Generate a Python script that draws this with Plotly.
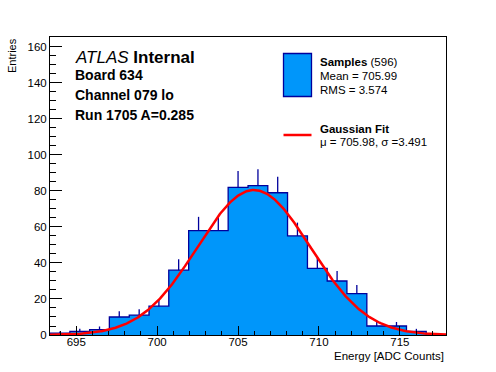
import numpy as np
import plotly.graph_objects as go

# ---------------- data ----------------
bin_centers = [693.99, 695.22, 696.44, 697.66, 698.89, 700.11, 701.33, 702.56,
               703.78, 705.00, 706.23, 707.45, 708.67, 709.90, 711.12, 712.34,
               713.57, 714.79, 716.02, 717.24]
bin_width = 1.2235
counts = [1, 2, 3, 10, 11, 16, 36, 58, 58, 82, 83, 79, 55, 37, 30, 23, 5, 5, 2, 0]

fit_const = 80.5
fit_mu = 705.98
fit_sigma = 3.491

x_range = [693.38, 717.85]
y_range = [0, 165.5]
x_ticks = [695, 700, 705, 710, 715]
y_ticks = [0, 20, 40, 60, 80, 100, 120, 140, 160]

header_lines = ["<i>ATLAS</i> <b>Internal</b>", "<b>Board 634</b>",
                "<b>Channel 079 lo</b>", "<b>Run 1705 A=0.285</b>"]
legend_hist = ["<b>Samples</b> (596)", "Mean = 705.99", "RMS = 3.574"]
legend_fit = ["<b>Gaussian Fit</b>", "μ = 705.98, σ =3.491"]

FILL = "#0096fa"
EDGE = "#00009c"
FONT = "Liberation Sans, Arial, Helvetica, sans-serif"

# --------------- geometry -------------
W, H = 496, 372
L, R, T, B = 50, 446, 37, 335


def xp(px):
    return (px - L) / (R - L)


def yp(py):
    return (B - py) / (B - T)


centers = np.array(bin_centers)
cnt = np.array(counts, dtype=float)
edges = np.append(centers - bin_width / 2, centers[-1] + bin_width / 2)

fig = go.Figure()

# filled histogram with step outline
sx = [edges[0]] + list(edges[:-1]) + [edges[-1], edges[-1]]
sy = [0] + list(cnt) + [cnt[-1], 0]
fig.add_trace(go.Scatter(x=sx, y=sy, mode="lines", line_shape="hv",
                         fill="tozeroy", fillcolor=FILL,
                         line=dict(color=EDGE, width=1.3), hoverinfo="skip"))

# upper error bars (Poisson)
fig.add_trace(go.Scatter(x=centers, y=cnt, mode="markers",
                         marker=dict(size=0.1, color=EDGE),
                         error_y=dict(type="data", symmetric=False,
                                      array=np.sqrt(cnt), arrayminus=np.zeros_like(cnt),
                                      color=EDGE, thickness=1.3, width=0),
                         hoverinfo="skip"))

# Gaussian fit curve
gx = np.linspace(x_range[0], x_range[1], 400)
gy = fit_const * np.exp(-0.5 * ((gx - fit_mu) / fit_sigma) ** 2)
fig.add_trace(go.Scatter(x=gx, y=gy, mode="lines",
                         line=dict(color="#ff0000", width=2.5), hoverinfo="skip"))

annotations = []
# header text
hdr_y = [57, 75.5, 95, 114.5]
hdr_size = [17, 14, 14, 14]
for t, y, s in zip(header_lines, hdr_y, hdr_size):
    annotations.append(dict(x=xp(73), y=yp(y), xref="paper", yref="paper",
                            text=t, showarrow=False, xanchor="left", yanchor="middle",
                            font=dict(size=s, color="black", family=FONT)))
# legend text
for t, y in zip(legend_hist + legend_fit, [62.5, 76, 89.5, 128.5, 141.5]):
    annotations.append(dict(x=xp(318), y=yp(y), xref="paper", yref="paper",
                            text=t, showarrow=False, xanchor="left", yanchor="middle",
                            font=dict(size=11.5, color="black", family=FONT)))
# axis titles
annotations.append(dict(x=xp(446), y=yp(355.5), xref="paper", yref="paper",
                        text="Energy [ADC Counts]", showarrow=False,
                        xanchor="right", yanchor="middle",
                        font=dict(size=11.5, color="black", family=FONT)))
annotations.append(dict(x=xp(12), y=yp(56), xref="paper", yref="paper",
                        text="Entries", showarrow=False, textangle=-90,
                        xanchor="center", yanchor="middle",
                        font=dict(size=11, color="black", family=FONT)))

shapes = [
    dict(type="rect", xref="paper", yref="paper",
         x0=xp(283.5), x1=xp(311.5), y0=yp(96.5), y1=yp(53.5),
         fillcolor=FILL, line=dict(color=EDGE, width=1.3)),
    dict(type="line", xref="paper", yref="paper",
         x0=xp(283.5), x1=xp(311.5), y0=yp(135), y1=yp(135),
         line=dict(color="#ff0000", width=2.5)),
]

fig.update_layout(
    width=W, height=H,
    margin=dict(l=L, r=W - R, t=T, b=H - B, pad=0),
    paper_bgcolor="white", plot_bgcolor="white",
    showlegend=False,
    font=dict(family=FONT, color="black", size=11.5),
    annotations=annotations, shapes=shapes,
    xaxis=dict(range=x_range, tickmode="array", tickvals=x_ticks,
               ticks="inside", ticklen=9, tickcolor="black", tickwidth=1,
               minor=dict(dtick=1, tick0=695, ticks="inside", ticklen=4.5,
                          tickcolor="black", tickwidth=1),
               showline=True, linecolor="black", linewidth=1, mirror=True,
               showgrid=False, zeroline=False, ticklabelstandoff=-4,
               tickfont=dict(size=11.5, family=FONT, color="black")),
    yaxis=dict(range=y_range, tickmode="array", tickvals=y_ticks,
               ticks="inside", ticklen=12, tickcolor="black", tickwidth=1,
               minor=dict(dtick=5, tick0=0, ticks="inside", ticklen=6,
                          tickcolor="black", tickwidth=1),
               showline=True, linecolor="black", linewidth=1, mirror=True,
               showgrid=False, zeroline=False, ticklabelstandoff=0,
               tickfont=dict(size=11.5, family=FONT, color="black")),
)

fig.write_html("out.html", config={"displayModeBar": False},
               post_script="document.body.style.margin='0';document.body.style.overflow='hidden';")
